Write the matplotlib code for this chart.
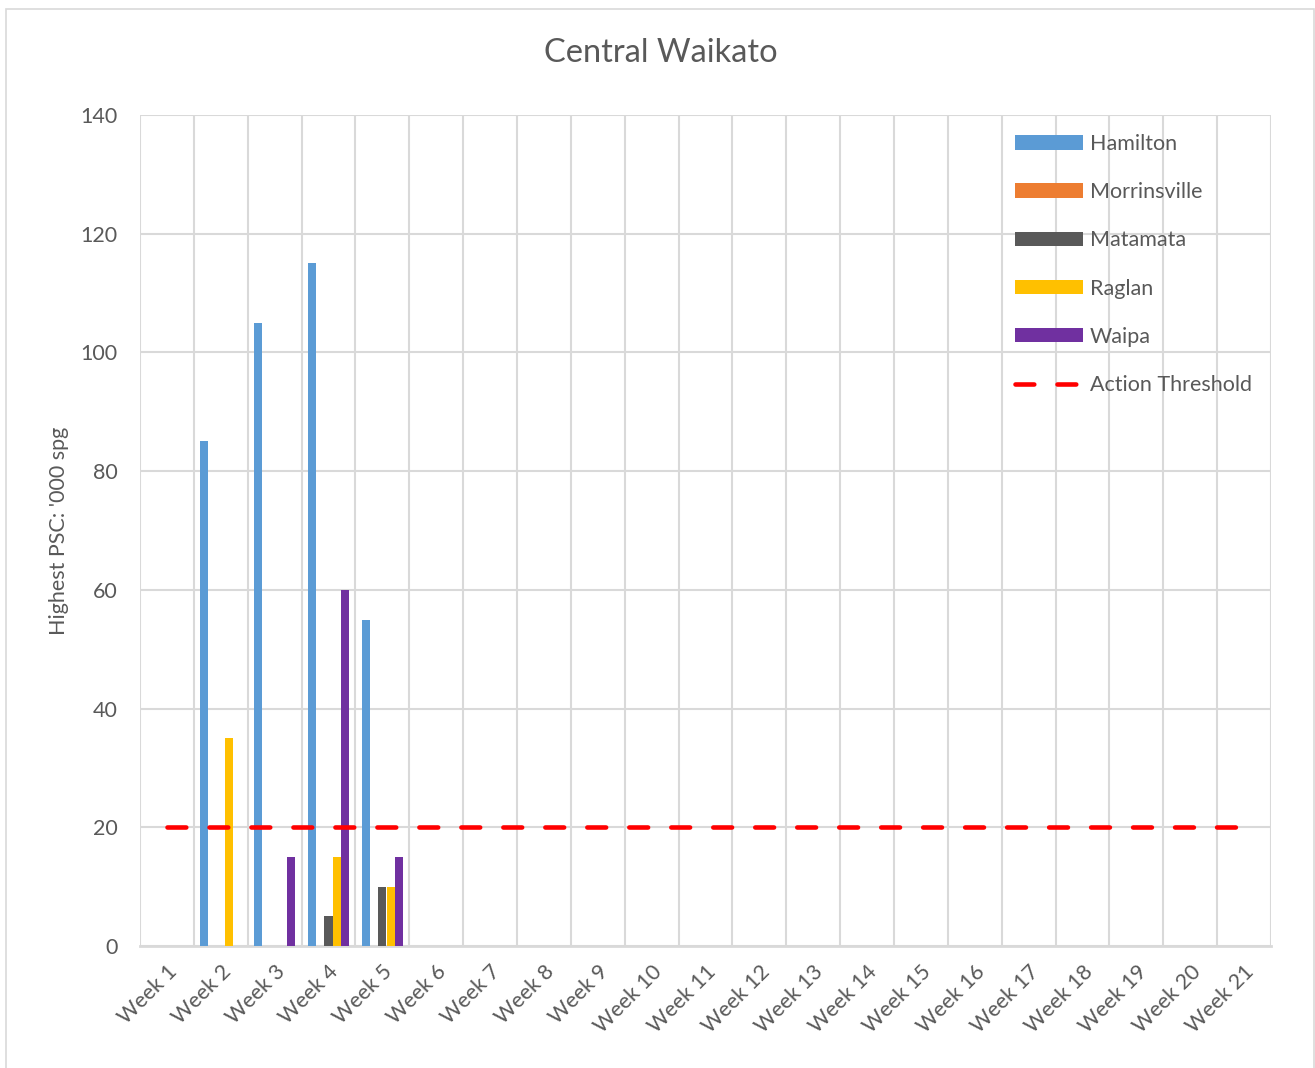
import matplotlib
matplotlib.use("Agg")
import matplotlib.pyplot as plt
from matplotlib.patches import Rectangle
import numpy as np

plt.rcParams['font.family'] = ['Lato', 'DejaVu Sans']

weeks = ["Week %d" % i for i in range(1, 22)]

# only the first five weeks have readings
hamilton = [0, 85, 105, 115, 55]
morrinsville = [0, 0, 0, 0, 0]
matamata = [0, 0, 0, 5, 10]
raglan = [0, 35, 0, 15, 10]
waipa = [0, 0, 15, 60, 15]
threshold = [20, 20, 20, 20, 20, 20, 20, 20, 20, 20, 20,
             20, 20, 20, 20, 20, 20, 20, 20, 20, 20]

series = [("Hamilton", hamilton, "#5B9BD5"),
          ("Morrinsville", morrinsville, "#ED7D31"),
          ("Matamata", matamata, "#595959"),
          ("Raglan", raglan, "#FFC000"),
          ("Waipa", waipa, "#7030A0")]

txt = "#595959"
grid_c = "#D9D9D9"
fs = 15.5

fig = plt.figure(figsize=(13.15, 10.68), dpi=100)
ax = fig.add_axes([140 / 1315, 1 - 946 / 1068, (1271 - 140) / 1315, (946 - 115) / 1068])

# outer chart border
fig.patches.append(Rectangle((6.5 / 1315, -0.01), (1314 - 6.5) / 1315, 1 - 8.5 / 1068 + 0.01,
                             transform=fig.transFigure, fill=False,
                             edgecolor=grid_c, linewidth=1.2))

x = np.arange(len(weeks))
w = 1 / 6.5
handles = []
for i, (name, vals, col) in enumerate(series):
    b = ax.bar(x[:len(vals)] + (i - 2) * w, vals, width=w, color=col, label=name, zorder=3)
    handles.append(b)

ln, = ax.plot(x, threshold, color="#FF0000", linewidth=3.3, linestyle=(0, (4.1, 5.06)),
              dash_capstyle="round", label="Action Threshold", zorder=4)
handles.append(ln)

ax.set_xlim(-0.5, len(weeks) - 0.5)
ax.set_ylim(0, 140)
ax.set_yticks(np.arange(0, 141, 20))
ax.set_xticks(x)
ax.set_xticks(np.arange(-0.5, len(weeks), 1), minor=True)
ax.set_xticklabels(weeks, rotation=45, ha="right", va="top", rotation_mode="anchor")
ax.tick_params(axis="both", which="both", length=0, labelsize=fs, colors=txt)
ax.tick_params(axis="x", pad=11)
ax.tick_params(axis="y", pad=16)

ax.grid(True, axis="y", which="major", color=grid_c, linewidth=1.5, zorder=0)
ax.grid(True, axis="x", which="minor", color=grid_c, linewidth=1.5, zorder=0)
ax.grid(False, axis="x", which="major")
for s in ["top", "right", "left"]:
    ax.spines[s].set_visible(False)
ax.spines["bottom"].set_color(grid_c)
ax.spines["bottom"].set_linewidth(2)

ax.set_ylabel("Highest PSC: '000 spg", fontsize=fs, color=txt, va="center")
ax.yaxis.set_label_coords((59 - 140) / 1131, 0.5)
fig.text(661 / 1315, 1 - 53 / 1068, "Central Waikato", fontsize=23.5, color=txt,
         ha="center", va="center")

leg = ax.legend(handles=handles, loc="upper left",
                bbox_to_anchor=((1015 - 140) / 1131, (946 - 134) / 831),
                frameon=False, fontsize=fs, labelcolor=txt, handlelength=3.16,
                handleheight=0.65, labelspacing=1.31, handletextpad=0.33,
                borderaxespad=0, borderpad=0)
leg.set_zorder(5)

fig.savefig("out.png", dpi=100, facecolor="white")
